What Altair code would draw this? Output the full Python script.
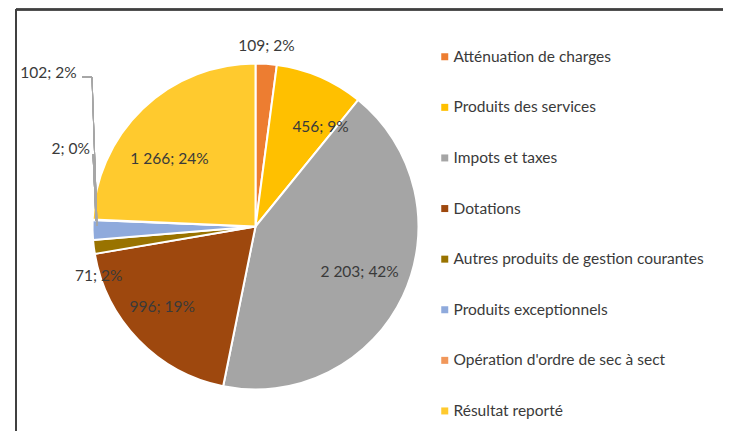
import altair as alt
import pandas as pd

categories = [
    "Atténuation de charges",
    "Produits des services",
    "Impots et taxes",
    "Dotations",
    "Autres produits de gestion courantes",
    "Produits exceptionnels",
    "Opération d'ordre de sec à sect",
    "Résultat reporté",
]
values = [109, 456, 2203, 996, 71, 102, 2, 1266]
labels = ["109; 2%", "456; 9%", "2 203; 42%", "996; 19%", "71; 2%", "102; 2%", "2; 0%", "1 266; 24%"]
colors = ["#ED7D31", "#FFC000", "#A5A5A5", "#9E480E", "#997300", "#8FAADC", "#F1975A", "#FFCA2E"]

df = pd.DataFrame({"cat": categories, "value": values, "label": labels, "order": list(range(len(values)))})

CX, CY, R = 247.5, 218.5, 163
FONT = "Lato"
TXT = "#3A3A3A"
FS = 15.5

base = alt.Chart(df)

pie = base.mark_arc(outerRadius=R, stroke="white", strokeWidth=2).encode(
    theta=alt.Theta("value:Q", stack=True),
    order=alt.Order("order:Q"),
    color=alt.Color(
        "cat:N",
        scale=alt.Scale(domain=categories, range=colors),
        legend=alt.Legend(
            title=None, orient="none", legendX=429, legendY=41,
            symbolType="square", symbolSize=49, symbolStrokeWidth=0,
            labelFontSize=FS, labelFont=FONT, labelColor=TXT,
            rowPadding=33.6, labelOffset=1, padding=0, labelLimit=400,
        ),
    ),
    x=alt.value(CX),
    y=alt.value(CY),
)

# label placement style: (radius, dx, dy)
label_style = {
    "Atténuation de charges": (181, -1, 0),
    "Produits des services": (119, 18, 10),
    "Impots et taxes": (114, 1, -3),
    "Dotations": (123, -5, -5),
    "Autres produits de gestion courantes": (164, 6, 29),
    "Produits exceptionnels": (165, -42, -157),
    "Opération d'ordre de sec à sect": (165, -20, -71),
    "Résultat reporté": (110, -10, 12),
}

text_base = base.transform_window(
    cum="sum(value)", sort=[{"field": "order"}], frame=[None, 0]
).transform_joinaggregate(total="sum(value)").transform_calculate(
    mid="2*PI*(datum.cum - datum.value/2)/datum.total"
)

text_layers = []
for cat, (r, dx, dy) in label_style.items():
    text_layers.append(
        text_base.transform_filter(alt.datum.cat == cat)
        .mark_text(radius=r, dx=dx, dy=dy, fontSize=FS, font=FONT, color=TXT,
                   align="center", baseline="middle")
        .encode(theta=alt.Theta("mid:Q", scale=None), text="label:N",
                x=alt.value(CX), y=alt.value(CY))
    )

line_color = "#A6A6A6"
lead1 = base.mark_rule(color=line_color, strokeWidth=1).encode(
    x=alt.value(74), x2=alt.value(84), y=alt.value(69), y2=alt.value(69))
lead2 = base.mark_rule(color=line_color, strokeWidth=1).encode(
    x=alt.value(84), x2=alt.value(89), y=alt.value(69), y2=alt.value(218))
lead3 = base.mark_rule(color=line_color, strokeWidth=1).encode(
    x=alt.value(85), x2=alt.value(88), y=alt.value(146), y2=alt.value(213))

frame_top = base.mark_rule(color="#404040", strokeWidth=1.6).encode(
    x=alt.value(8), x2=alt.value(715), y=alt.value(1.5), y2=alt.value(1.5))
frame_left = base.mark_rule(color="#404040", strokeWidth=1.6).encode(
    x=alt.value(8), x2=alt.value(8), y=alt.value(1.5), y2=alt.value(423))

chart = alt.layer(
    pie, *text_layers, lead1, lead2, lead3, frame_top, frame_left
).properties(
    width=715, height=423, autosize=alt.AutoSizeParams(type="none"), padding=0
).configure_view(stroke=None)

chart.save("out.html", embed_options={"renderer": "svg", "actions": False})
